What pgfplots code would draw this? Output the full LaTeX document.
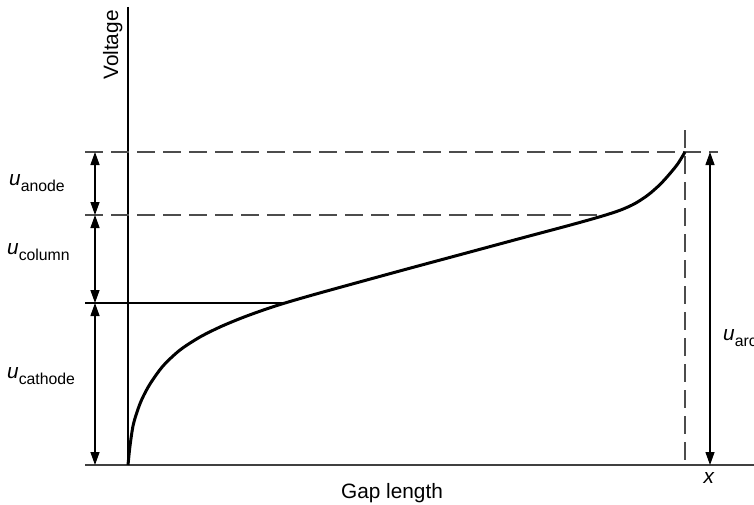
\documentclass[border=0pt]{standalone}
\usepackage{pgfplots}
\pgfplotsset{compat=1.18}
\usepackage{fontspec}
\setmainfont{Liberation Sans}
\usetikzlibrary{arrows.meta}
\begin{document}
\begin{tikzpicture}
\tikzset{dbl/.style={line width=1.3bp, {Triangle[length=13bp,width=9bp]}-{Triangle[length=13bp,width=9bp]}}}
\newcommand{\lab}[1]{{\fontsize{20.8bp}{24bp}\selectfont\textit{u}\raisebox{-6.5bp}{\fontsize{15.8bp}{18bp}\selectfont #1}}}
\begin{axis}[
  scale only axis, width=754bp, height=505bp,
  xmin=0, xmax=754, ymin=0, ymax=505, y dir=reverse,
  hide axis, clip=true,
]
% axes
\addplot[line width=1.4bp, black] coordinates {(128,7) (128,465)};
\addplot[line width=1.4bp, black!75] coordinates {(85,465) (754,465)};
% dashed and solid guide lines
\addplot[line width=1.3bp, black!70, dash pattern=on 18bp off 8bp] coordinates {(85,152) (718,152)};
\addplot[line width=1.3bp, black!70, dash pattern=on 18bp off 8bp] coordinates {(85,215) (603,215)};
\addplot[line width=1.3bp, black!70, dash pattern=on 18bp off 8bp] coordinates {(685,130) (685,465)};
\addplot[line width=1.1bp, black] coordinates {(85,303) (283,303)};
% arrows
\addplot[dbl] coordinates {(95,152) (95,215)};
\addplot[dbl] coordinates {(95,215) (95,303)};
\addplot[dbl] coordinates {(95,303) (95,465)};
\addplot[dbl] coordinates {(710,152) (710,465)};
% curve
\addplot[line width=3bp, black, smooth] coordinates {
(128,465) (130,446) (133,426) (137,412) (142,399) (150,384) (163,366)
(180,350) (200,337) (220,327) (240,318.6) (260,311.2) (283,303.6)
(320,292.9) (400,270.9) (460,254.7) (520,238.5) (565,226.5) (590,219.6)
(608,214.3) (622,209.5) (635,203.5) (648,195) (660,184.5) (670,173.5)
(678,163.5) (685,152)};
% labels
\node[anchor=base west, inner sep=0pt] at (axis cs:9,185) {\lab{anode}};
\node[anchor=base west, inner sep=0pt] at (axis cs:7,254) {\lab{column}};
\node[anchor=base west, inner sep=0pt] at (axis cs:7,378) {\lab{cathode}};
\node[anchor=base west, inner sep=0pt] at (axis cs:723,340) {\lab{arc}};
\node[anchor=base, inner sep=0pt] at (axis cs:709,483) {\fontsize{20.8bp}{24bp}\selectfont\textit{x}};
\node[anchor=base, inner sep=0pt] at (axis cs:392,498) {\fontsize{20.8bp}{24bp}\selectfont Gap length};
\node[anchor=base, inner sep=0pt, rotate=90] at (axis cs:118,45) {\fontsize{20.8bp}{24bp}\selectfont Voltage};
\end{axis}
\pgfresetboundingbox
\useasboundingbox (current axis.south west) rectangle (current axis.north east);
\end{tikzpicture}
\end{document}
